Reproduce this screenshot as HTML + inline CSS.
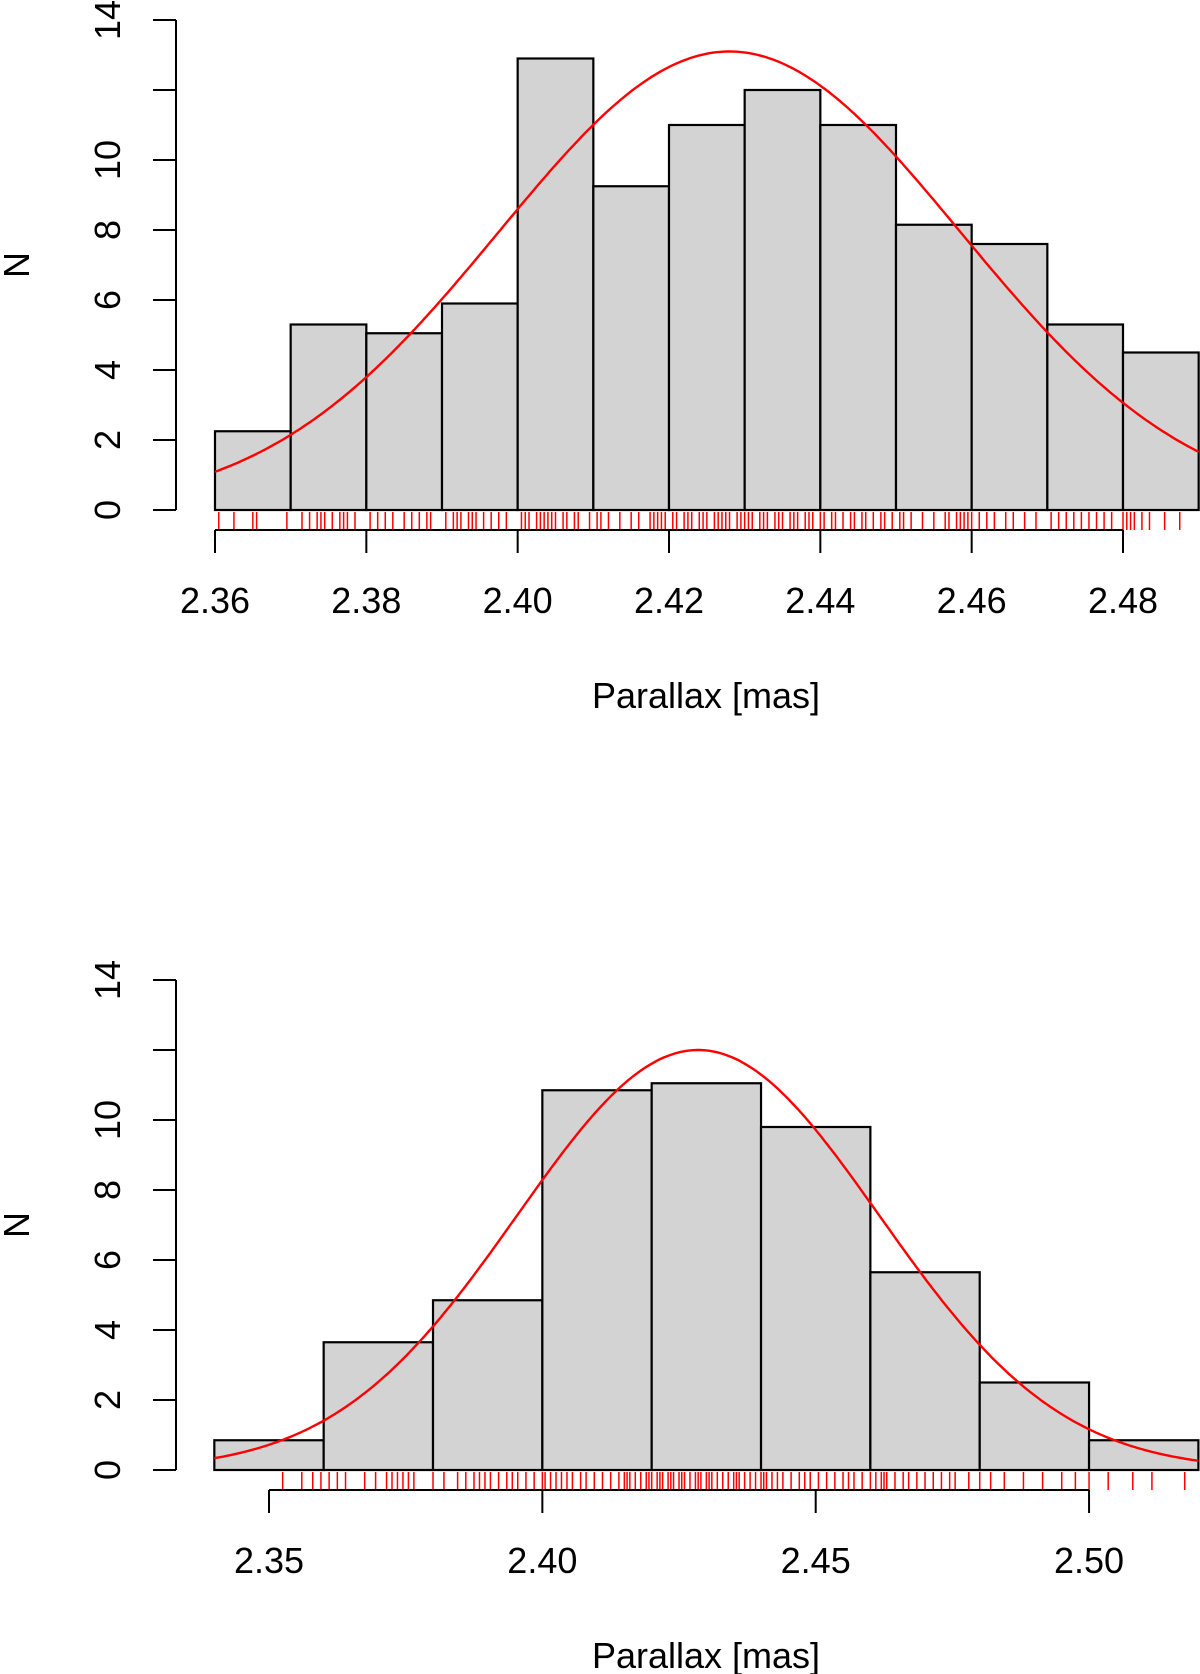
<!DOCTYPE html>
<html><head><meta charset="utf-8"><style>
body{margin:0;background:#fff}
svg{display:block;font-family:"Liberation Sans",sans-serif}
</style></head><body>
<svg id="c" width="1200" height="1674" viewBox="0 0 1200 1674"></svg>
<script>
// Top panel data
const topBinEdgesStart = 2.36, topBinWidth = 0.01;
const topCounts = [2.25, 5.3, 5.05, 5.9, 12.9, 9.25, 11, 12, 11, 8.15, 7.6, 5.3, 4.5];
const topXTicks = [2.36, 2.38, 2.40, 2.42, 2.44, 2.46, 2.48];
const topXTickLabels = ["2.36","2.38","2.40","2.42","2.44","2.46","2.48"];
const topFit = [2.428, 0.0305, 13.1]; // mean, sd, peak
const topRug = [2.3605,2.3625,2.365,2.3655,2.3695,2.3715,2.3725,2.3735,2.374,2.3745,2.3755,2.3765,2.377,2.3775,2.3785,2.3805,2.3815,2.3825,2.3835,2.385,2.386,2.387,2.388,2.3885,2.3905,2.3915,2.392,2.3925,2.3935,2.394,2.3945,2.3955,2.3965,2.3975,2.3985,2.4005,2.401,2.4015,2.4025,2.403,2.4035,2.404,2.4045,2.405,2.406,2.4065,2.4075,2.408,2.4095,2.4105,2.411,2.412,2.4135,2.415,2.416,2.4175,2.418,2.4185,2.419,2.4195,2.4205,2.421,2.422,2.4225,2.423,2.424,2.4245,2.425,2.426,2.4265,2.427,2.4275,2.428,2.429,2.4295,2.430,2.4305,2.431,2.432,2.4325,2.433,2.434,2.4345,2.435,2.436,2.4365,2.437,2.438,2.4385,2.439,2.440,2.4405,2.4415,2.442,2.443,2.444,2.4445,2.4455,2.446,2.447,2.448,2.4485,2.4495,2.4505,2.451,2.452,2.4535,2.455,2.4565,2.457,2.458,2.4585,2.459,2.4595,2.460,2.461,2.462,2.463,2.4645,2.4655,2.467,2.4685,2.4705,2.4715,2.4725,2.4735,2.4745,2.4755,2.4765,2.4775,2.4785,2.480,2.4805,2.481,2.4815,2.4825,2.4835,2.4855,2.4875];
// Bottom panel data
const botBinEdgesStart = 2.34, botBinWidth = 0.02;
const botCounts = [0.85, 3.65, 4.85, 10.85, 11.05, 9.8, 5.65, 2.5, 0.85];
const botXTicks = [2.35, 2.40, 2.45, 2.50];
const botXTickLabels = ["2.35","2.40","2.45","2.50"];
const botFit = [2.4285, 0.0331, 12.0];
const botRug = [2.3525,2.356,2.358,2.3595,2.361,2.3625,2.364,2.3675,2.3695,2.3715,2.3725,2.3735,2.3745,2.3755,2.3765,2.380,2.382,2.3845,2.386,2.3875,2.3885,2.3895,2.3905,2.392,2.3935,2.3945,2.3955,2.397,2.3985,2.4,2.4005,2.4015,2.4025,2.4035,2.4045,2.4055,2.407,2.408,2.4095,2.411,2.4125,2.414,2.415,2.4155,2.416,2.417,2.418,2.419,2.4195,2.420,2.421,2.4215,2.422,2.423,2.4235,2.424,2.425,2.4255,2.426,2.427,2.428,2.4285,2.429,2.430,2.4305,2.431,2.432,2.433,2.434,2.435,2.4355,2.436,2.437,2.438,2.439,2.440,2.4405,2.441,2.442,2.443,2.444,2.4455,2.447,2.448,2.449,2.4505,2.452,2.4535,2.455,2.456,2.457,2.4585,2.460,2.461,2.462,2.4625,2.463,2.4645,2.466,2.467,2.4685,2.470,2.4715,2.473,2.4745,2.4755,2.478,2.480,2.482,2.4845,2.488,2.4915,2.495,2.4975,2.500,2.5035,2.508,2.5115,2.5175];
const yTicks = [0,2,4,6,8,10,12,14];
const yTickLabels = ["0","2","4","6","8","10","","14"];

const svg = document.getElementById('c');
const NS = 'http://www.w3.org/2000/svg';
function mk(tag, attrs, parent){const e=document.createElementNS(NS,tag);for(const k in attrs)e.setAttribute(k,attrs[k]);(parent||svg).appendChild(e);return e;}

function panel(cfg){
  const g = mk('g',{});
  
  
  const X = v => cfg.x0 + (v - cfg.xv0) * cfg.xs;
  const Y = v => cfg.y0 - v * 35;
  cfg.counts.forEach((c,i)=>{
    const a = cfg.start + i*cfg.bw, b = a + cfg.bw;
    const r = mk('rect',{x:X(a),y:Y(c),width:X(b)-X(a),height:Y(0)-Y(c),fill:'#d3d3d3',stroke:'#000','stroke-width':2.2},g);
    
    
  });
  let d='';
  const xa = cfg.start, xb = cfg.start + cfg.counts.length*cfg.bw;
  for(let i=0;i<=300;i++){const v=xa+(xb-xa)*i/300;const f=cfg.fit[2]*Math.exp(-Math.pow(v-cfg.fit[0],2)/(2*cfg.fit[1]*cfg.fit[1]));d+=(i?'L':'M')+X(v).toFixed(1)+','+Y(f).toFixed(1);}
  const p = mk('path',{d:d,fill:'none',stroke:'#f00','stroke-width':2.4},g);
  
  
  const rg = mk('g',{stroke:'#f00','stroke-width':1.5},g);
  
  
  cfg.rug.forEach(v=>{const l=mk('line',{x1:X(v),x2:X(v),y1:cfg.rugTop,y2:cfg.axY},rg);
    
    });
  const ya = mk('g',{stroke:'#000','stroke-width':2},g);
  
  
  mk('line',{x1:176,x2:176,y1:Y(0),y2:Y(14)},ya);
  yTicks.forEach((t,i)=>{
    mk('line',{x1:153,x2:176,y1:Y(t),y2:Y(t)},ya);
    const tx = mk('text',{x:0,y:0,transform:`translate(120,${Y(t)}) rotate(-90)`,'text-anchor':'middle','font-size':36,stroke:'none',fill:'#000'},g);
    tx.textContent = yTickLabels[i];
    
    
  });
  const yl = mk('text',{transform:`translate(29,${cfg.y0-245}) rotate(-90)`,'text-anchor':'middle','font-size':36},g);
  yl.textContent='N';
  
  
  const xaG = mk('g',{stroke:'#000','stroke-width':2},g);
  
  
  const t0=cfg.ticks[0], t1=cfg.ticks[cfg.ticks.length-1];
  mk('line',{x1:X(t0),x2:X(t1),y1:cfg.axY,y2:cfg.axY},xaG);
  cfg.ticks.forEach((t,i)=>{
    mk('line',{x1:X(t),x2:X(t),y1:cfg.axY,y2:cfg.axY+23},xaG);
    const tx = mk('text',{x:X(t),y:cfg.axY+83,'text-anchor':'middle','font-size':36},g);
    tx.textContent = cfg.labels[i];
    
    
  });
  const xl = mk('text',{x:706,y:cfg.axY+178,'text-anchor':'middle','font-size':36},g);
  xl.textContent='Parallax [mas]';
  
  
}
panel({name:'top-histogram',x0:215,xv0:2.36,xs:7566.7,y0:510,counts:topCounts,start:topBinEdgesStart,bw:topBinWidth,fit:topFit,rug:topRug,rugTop:512,axY:530,ticks:topXTicks,labels:topXTickLabels});
panel({name:'bottom-histogram',x0:269,xv0:2.35,xs:5467,y0:1470,counts:botCounts,start:botBinEdgesStart,bw:botBinWidth,fit:botFit,rug:botRug,rugTop:1472,axY:1490,ticks:botXTicks,labels:botXTickLabels});
</script>
</body></html>
